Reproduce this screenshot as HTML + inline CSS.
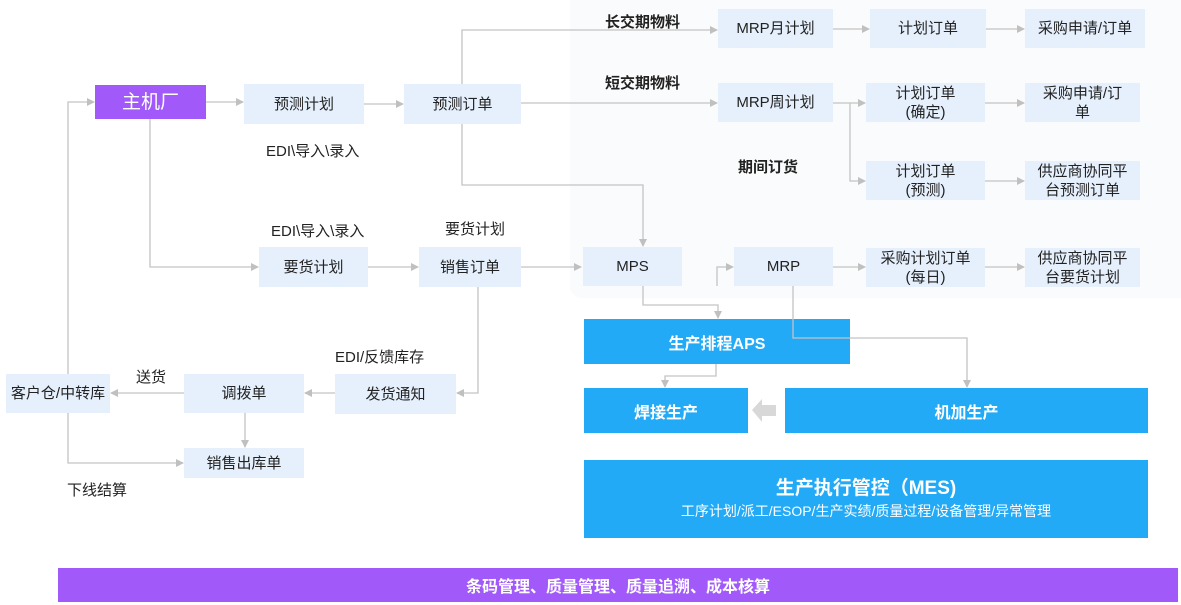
<!DOCTYPE html>
<html><head><meta charset="utf-8"><style>
body{margin:0;width:1181px;height:605px;background:#fff;position:relative;overflow:hidden;font-family:"Liberation Sans","Noto Sans CJK SC",sans-serif;}
.b{position:absolute;background:#e6f0fd;color:#222;font-size:15px;display:flex;align-items:center;justify-content:center;text-align:center;line-height:19px;}
.c{position:absolute;background:#22aaf7;color:#fff;font-weight:bold;font-size:16px;display:flex;align-items:center;justify-content:center;flex-direction:column;}
.t{position:absolute;font-size:15px;color:#222;white-space:nowrap;}
.tb{position:absolute;font-size:15px;color:#222;font-weight:bold;white-space:nowrap;}
svg{position:absolute;left:0;top:0;}
</style></head><body>
<div style="position:absolute;left:570px;top:0;width:611px;height:298px;background:#fafbfc;border-radius:0 0 0 12px"></div>
<svg width="1181" height="605">
<defs><marker id="a" markerWidth="8" markerHeight="8" refX="7" refY="4" orient="auto" markerUnits="userSpaceOnUse"><path d="M0,0L8,4L0,8z" fill="#c0c0c0"/></marker></defs>
<g stroke="#c4c4c4" stroke-width="1.3" fill="none" marker-end="url(#a)">
<path d="M205,102H243"/>
<path d="M364,104H403"/>
<path d="M521,103H717"/>
<path d="M462,84V30H717"/>
<path d="M462,124V185H643V246"/>
<path d="M833,29H869"/>
<path d="M986,29H1024"/>
<path d="M833,103H865"/>
<path d="M850,103V181H865"/>
<path d="M985,103H1024"/>
<path d="M985,181H1024"/>
<path d="M833,267H865"/>
<path d="M985,267H1024"/>
<path d="M150,118V267H258"/>
<path d="M368,267H418"/>
<path d="M521,267H581"/>
<path d="M717,286V267H733"/>
<path d="M643,286V305H718V318"/>
<path d="M716,364V376H665V387"/>
<path d="M478,286V393H457"/>
<path d="M335,393H305"/>
<path d="M184,393H111"/>
<path d="M245,413V447"/>
<path d="M68,413V463H183"/>
<path d="M68,374V102H94"/>
</g>
<path d="M752,410L762,399V405H776V416H762V422z" fill="#d8d8d8"/>
</svg>
<div class="b" style="left:95px;top:85px;width:111px;height:34px;background:#a259fa;color:#fff;font-size:19px">主机厂</div>
<div class="b" style="left:244px;top:84px;width:120px;height:40px">预测计划</div>
<div class="b" style="left:404px;top:84px;width:117px;height:40px">预测订单</div>
<div class="b" style="left:718px;top:9px;width:115px;height:39px">MRP月计划</div>
<div class="b" style="left:870px;top:9px;width:116px;height:39px">计划订单</div>
<div class="b" style="left:1025px;top:9px;width:120px;height:39px">采购申请/订单</div>
<div class="b" style="left:718px;top:83px;width:115px;height:39px">MRP周计划</div>
<div class="b" style="left:866px;top:83px;width:119px;height:39px">计划订单<br>(确定)</div>
<div class="b" style="left:1025px;top:83px;width:115px;height:39px">采购申请/订<br>单</div>
<div class="b" style="left:866px;top:161px;width:119px;height:39px">计划订单<br>(预测)</div>
<div class="b" style="left:1025px;top:161px;width:115px;height:39px">供应商协同平<br>台预测订单</div>
<div class="b" style="left:583px;top:247px;width:99px;height:39px">MPS</div>
<div class="b" style="left:734px;top:247px;width:99px;height:39px">MRP</div>
<div class="b" style="left:866px;top:248px;width:119px;height:39px">采购计划订单<br>(每日)</div>
<div class="b" style="left:1025px;top:248px;width:115px;height:39px">供应商协同平<br>台要货计划</div>
<div class="b" style="left:259px;top:247px;width:109px;height:40px">要货计划</div>
<div class="b" style="left:419px;top:247px;width:102px;height:40px">销售订单</div>
<div class="b" style="left:335px;top:374px;width:121px;height:40px">发货通知</div>
<div class="b" style="left:184px;top:374px;width:120px;height:39px">调拨单</div>
<div class="b" style="left:6px;top:374px;width:104px;height:39px">客户仓/中转库</div>
<div class="b" style="left:184px;top:448px;width:120px;height:30px">销售出库单</div>
<div class="t" style="left:266px;top:140px">EDI\导入\录入</div>
<div class="t" style="left:271px;top:220px">EDI\导入\录入</div>
<div class="t" style="left:445px;top:218px">要货计划</div>
<div class="t" style="left:335px;top:346px">EDI/反馈库存</div>
<div class="t" style="left:136px;top:366px">送货</div>
<div class="t" style="left:67px;top:479px">下线结算</div>
<div class="tb" style="left:605px;top:11px">长交期物料</div>
<div class="tb" style="left:605px;top:72px">短交期物料</div>
<div class="tb" style="left:738px;top:156px">期间订货</div>
<div class="c" style="left:584px;top:319px;width:266px;height:45px">生产排程APS</div>
<div class="c" style="left:584px;top:388px;width:164px;height:45px">焊接生产</div>
<div class="c" style="left:785px;top:388px;width:363px;height:45px">机加生产</div>
<div class="c" style="left:584px;top:460px;width:564px;height:78px"><div style="font-size:19px;line-height:24px">生产执行管控（MES)</div><div style="font-weight:normal;font-size:14px;line-height:20px">工序计划/派工/ESOP/生产实绩/质量过程/设备管理/异常管理</div></div>
<div class="c" style="left:58px;top:568px;width:1120px;height:34px;background:#a259fa">条码管理、质量管理、质量追溯、成本核算</div>
<svg width="1181" height="605">
<defs><marker id="a2" markerWidth="8" markerHeight="8" refX="7" refY="4" orient="auto" markerUnits="userSpaceOnUse"><path d="M0,0L8,4L0,8z" fill="#c0c0c0"/></marker></defs>
<path d="M793,286V338H967V387" stroke="#c4c4c4" stroke-width="1.3" fill="none" marker-end="url(#a2)"/>
</svg>
</body></html>
